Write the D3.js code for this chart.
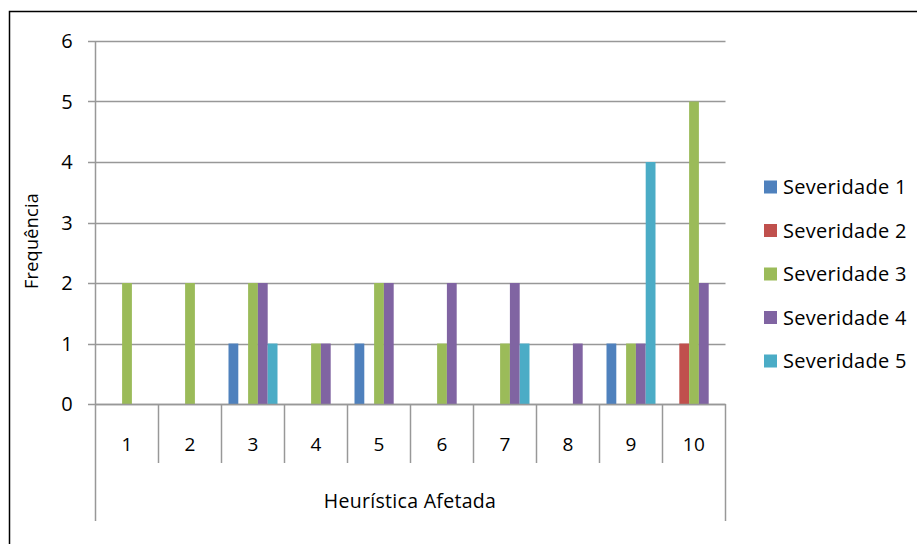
<!DOCTYPE html>
<html><head><meta charset="utf-8">
<script src="https://cdn.jsdelivr.net/npm/d3@7"></script>
<style>body{margin:0;background:#fff}svg{display:block}text{font-family:"Open Sans",sans-serif;fill:#000;letter-spacing:0.3px}</style>
</head><body>
<script>
const categories = ["1","2","3","4","5","6","7","8","9","10"];
const seriesNames = ["Severidade 1","Severidade 2","Severidade 3","Severidade 4","Severidade 5"];
const sev1 = [0,0,1,0,1,0,0,0,1,0];
const sev2 = [0,0,0,0,0,0,0,0,0,1];
const sev3 = [2,2,2,1,2,1,1,0,1,5];
const sev4 = [0,0,2,1,2,2,2,1,1,2];
const sev5 = [0,0,1,0,0,0,1,0,4,0];
const colors = ["#4F81BD","#C0504D","#9BBB59","#8064A2","#4BACC6"];
const yTicks = [0,1,2,3,4,5,6];
const xTitle = "Heurística Afetada";
const yTitle = "Frequência";

const series = [sev1,sev2,sev3,sev4,sev5];
const W=917,H=544;
const svg=d3.select("body").append("svg").attr("width",W).attr("height",H);
svg.append("rect").attr("x",9.5).attr("y",11.5).attr("width",W).attr("height",H).attr("fill","none").attr("stroke","#000").attr("stroke-width",1.5);

const x0=95.5,x1=725.5,yTop=41,yBot=404;
const x=d3.scaleBand().domain(categories).range([x0,x1]).paddingInner(0).paddingOuter(0);
const xs=d3.scaleBand().domain(d3.range(5)).range([7,x.bandwidth()-7]).padding(0);
const y=d3.scaleLinear().domain([0,6]).range([yBot,yTop]);
const grid="#989898";

svg.append("g").selectAll("line").data(yTicks).join("line")
 .attr("x1",88).attr("x2",x1).attr("y1",d=>Math.round(y(d))+0.5).attr("y2",d=>Math.round(y(d))+0.5)
 .attr("stroke",grid).attr("stroke-width",1.5);
svg.append("g").selectAll("text").data(yTicks).join("text")
 .attr("x",73).attr("y",d=>y(d)).attr("dy","0.36em").attr("text-anchor","end")
 .style("font-size","20px").text(d=>d);
const gBars=svg.append("g");
series.forEach((s,si)=>{
  gBars.selectAll(null).data(s.map((v,i)=>({v,c:categories[i]}))).join("rect")
   .attr("x",d=>x(d.c)+xs(si)).attr("width",xs.bandwidth())
   .attr("y",d=>y(d.v)).attr("height",d=>y(0)-y(d.v)).attr("fill",colors[si]);
});
svg.append("line").attr("x1",x0).attr("x2",x1).attr("y1",yBot+0.5).attr("y2",yBot+0.5).attr("stroke",grid).attr("stroke-width",1.5);
svg.append("line").attr("x1",x0).attr("x2",x0).attr("y1",yTop).attr("y2",521).attr("stroke",grid).attr("stroke-width",1.5);
svg.append("line").attr("x1",x1).attr("x2",x1).attr("y1",yBot).attr("y2",521).attr("stroke",grid).attr("stroke-width",1.5);
svg.append("g").selectAll("line").data(categories.slice(1)).join("line")
 .attr("x1",d=>x(d)).attr("x2",d=>x(d)).attr("y1",yBot).attr("y2",463).attr("stroke",grid).attr("stroke-width",1.5);
svg.append("g").selectAll("text").data(categories).join("text")
 .attr("x",d=>x(d)+x.bandwidth()/2).attr("y",444).attr("dy","0.36em").attr("text-anchor","middle")
 .style("font-size","19px").text(d=>d);
svg.append("text").attr("x",410).attr("y",501).attr("dy","0.36em").attr("text-anchor","middle").style("font-size","19.5px").text(xTitle);
svg.append("text").attr("transform","translate(32,241) rotate(-90)").attr("dy","0.36em").attr("text-anchor","middle").style("font-size","18px").text(yTitle);
const lg=svg.append("g");
seriesNames.forEach((n,i)=>{
  const cy=187+i*43.5;
  lg.append("rect").attr("x",764).attr("y",cy-6.5).attr("width",13).attr("height",13).attr("fill",colors[i]);
  lg.append("text").attr("x",783).attr("y",cy).attr("dy","0.36em").style("font-size","20px").text(n);
});
</script>
</body></html>
